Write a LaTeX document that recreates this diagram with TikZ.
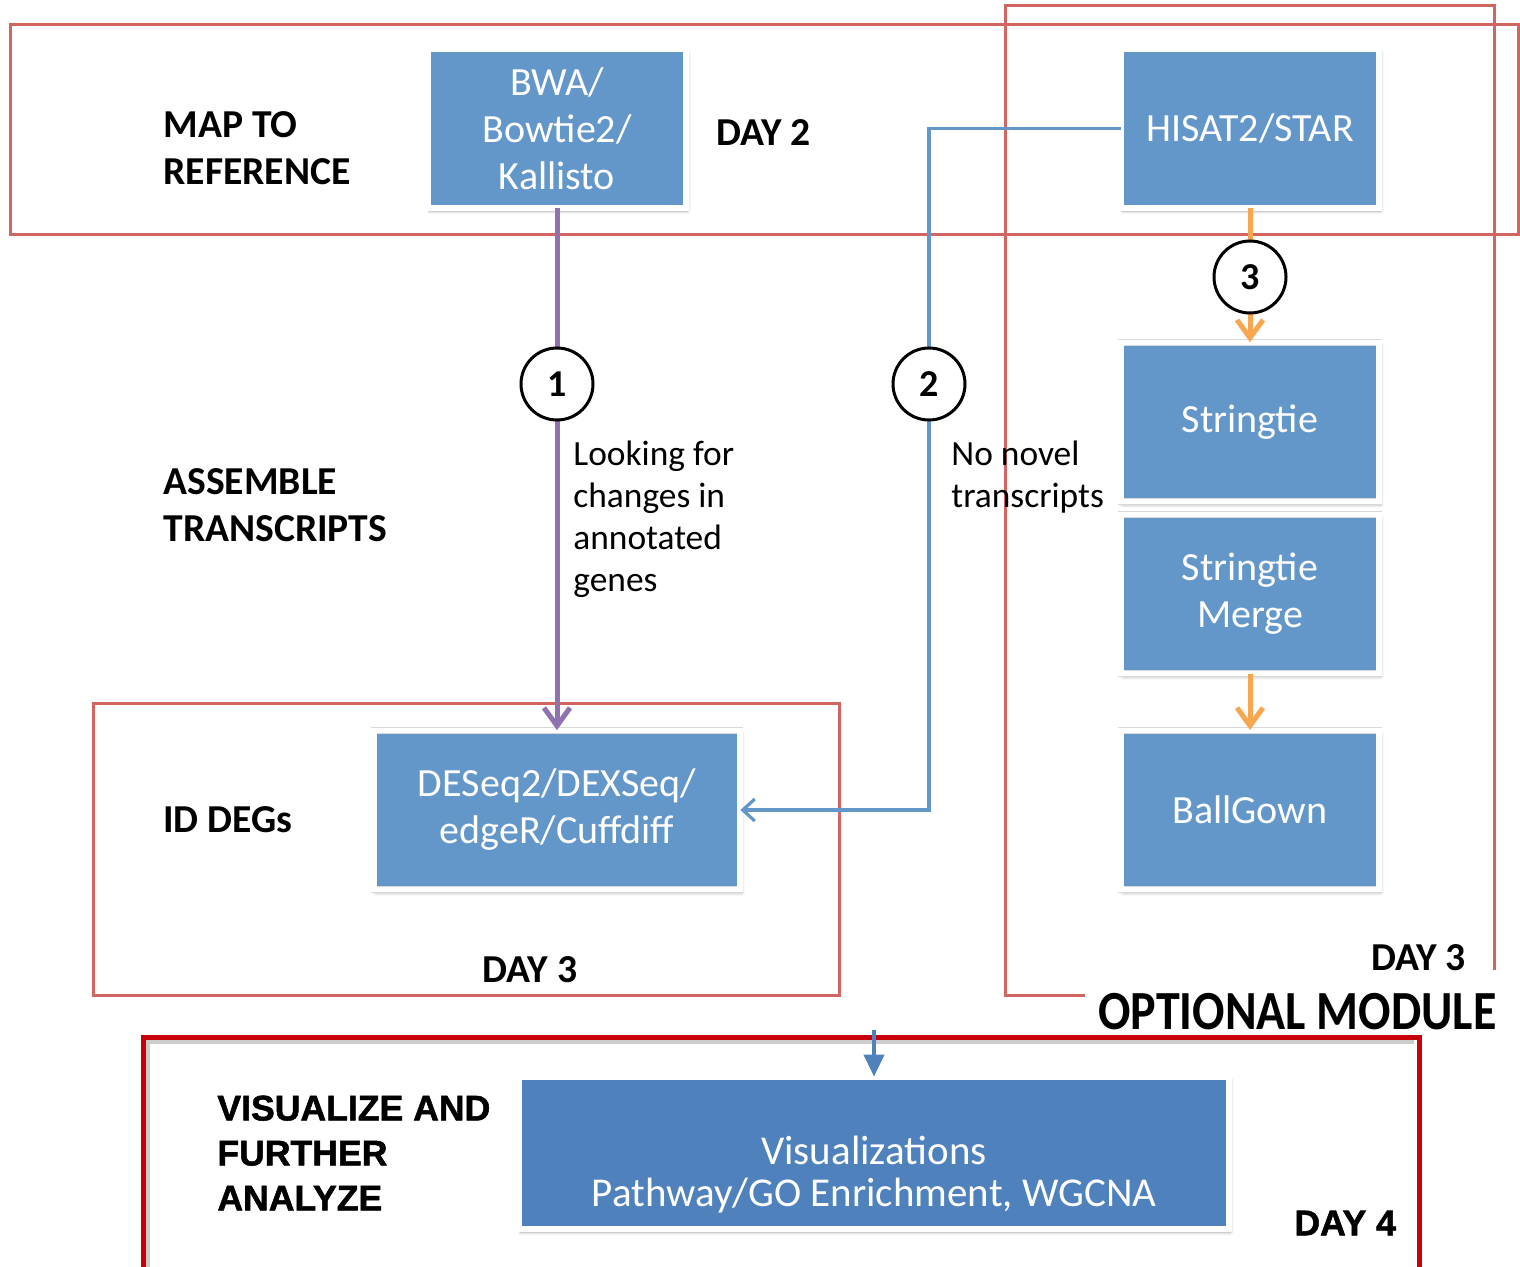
\documentclass[tikz,border=0pt]{standalone}
\usepackage{fontspec}
\setmainfont{Carlito}
\newfontfamily\heavyfont[BoldFeatures={FakeBold=1.5}]{Liberation Sans}
\usepackage{tikz}
\usetikzlibrary{positioning,shadows,shadows.blur,arrows.meta}

\definecolor{framered}{RGB}{208,101,97}
\definecolor{deepred}{RGB}{200,0,12}
\definecolor{toolblue}{RGB}{99,150,201}
\definecolor{vizblue}{RGB}{79,129,189}
\definecolor{flowpurple}{RGB}{142,115,176}
\definecolor{floworange}{RGB}{249,166,80}

\begin{document}
\begin{tikzpicture}[x = 0.5pt, y = -0.5pt,
    tool/.style = { draw = black!15, line width = 0.4pt, double = white, double distance = 2.6pt,
      fill = toolblue, text = white, align = center,
      inner sep = 0pt, minimum width = 129pt, minimum height = 79.5pt,
      font = \fontsize{20}{23.5}\selectfont,
      blur shadow={shadow xshift=0.8pt,shadow yshift=-1.6pt,shadow blur radius=1.6pt,shadow opacity=35} },
    stepnum/.style = { draw, circle, line width = 1.5pt, fill = white, minimum size = 36pt,
      inner sep = 0pt, font = \fontsize{19}{19}\bfseries },
    phase/.style = { anchor = west, align = left, inner sep = 0pt, font = \fontsize{19.8}{23.5}\bfseries },
    note/.style = { anchor = west, align = left, inner sep = 0pt, font = \fontsize{17.7}{21}\selectfont },
    heavy/.style = { align = left, inner sep = 0pt, font = \fontsize{17.8}{22.5}\heavyfont\bfseries },
    frame/.style = { draw = framered, line width = 1.5pt },
    flow/.style = { line width = 2.5pt, -{Straight Barb[length=9pt,width=13pt]} }]

  \clip (0,0) rectangle (1520,1267);

  % frames
  \draw[frame] (10,25) rectangle (1518,235);
  \draw[frame] (93,703) rectangle (839,995);
  \draw[frame] (1085,995) -- (1005,995) -- (1005,6) -- (1494,6) -- (1494,970);
  \draw[black!20, line width = 2pt] (148,1290) |- (1414,1042);
  \draw[deepred, line width = 2.5pt] (143,1290) |- (1419,1037) -- (1419,1290);

  % tools
  \node[tool] (bwa) at (557,128.5) {BWA/\\Bowtie2/\\Kallisto};
  \node[tool] (hisat) at (1250,128.5) {HISAT2/STAR};
  \node[tool, below = 66.9pt of hisat] (stringtie) {Stringtie};
  \node[tool, below = 6pt of stringtie] (merge) {Stringtie\\Merge};
  \node[tool, below = 28.1pt of merge] (ballgown) {BallGown};
  \node[tool, minimum width = 183pt] (deseq) at (557,810) {DESeq2/DEXSeq/\\edgeR/Cuffdiff};
  \node[tool, fill = vizblue, minimum width = 355pt, minimum height = 76pt,
    font = \fontsize{20.5}{21}\selectfont] (viz) at (874,1153)
    {\strut\\Visualizations\\Pathway/GO Enrichment, WGCNA};

  % connectors
  \coordinate (turn2) at (929,128.5);
  \coordinate (vizin) at (874,1030);
  \draw[flow, draw = flowpurple] (bwa) -- (deseq);
  \draw[draw = toolblue, line width = 1.6pt, -{Straight Barb[length=6pt,width=11pt]}]
    (hisat.west) -- (turn2) |- (deseq.east);
  \draw[flow, draw = floworange] (hisat) -- (stringtie);
  \draw[flow, draw = floworange] (merge) -- (ballgown);
  \draw[draw = vizblue, line width = 2pt, -{Triangle[length=11pt,width=10pt]}] (vizin) -- (viz.north);

  \node[stepnum] (n1) at (557,384) {1};
  \node[stepnum] (n2) at (929,384) {2};
  \node[stepnum] (n3) at (1250,277) {3};

  % labels
  \node[phase] (mapref) at (163,148.5) {MAP TO\\REFERENCE};
  \node[phase] (day2) at (716,133) {DAY 2};
  \node[phase] (assemble) at (163,505) {ASSEMBLE\\TRANSCRIPTS};
  \node[phase] (iddegs) at (163,820) {ID DEGs};
  \node[phase, anchor = center] (day3a) at (530,970) {DAY 3};
  \node[phase, anchor = east] (day3b) at (1466,958) {DAY 3};
  \node[phase, anchor = east, font = \fontsize{24}{24}\bfseries] (optional) at (1497,1012)
    {\scalebox{1}[1.15]{OPTIONAL MODULE}};
  \node[note] (annotated) at (573,519) {Looking for\\changes in\\annotated\\genes};
  \node[note] (novel) at (951,477) {No novel\\transcripts};
  \node[heavy, anchor = west] (visualize) at (217,1153) {VISUALIZE AND\\FURTHER\\ANALYZE};
  \node[heavy, anchor = west] (day4) at (1294,1223) {DAY 4};

\end{tikzpicture}
\end{document}
